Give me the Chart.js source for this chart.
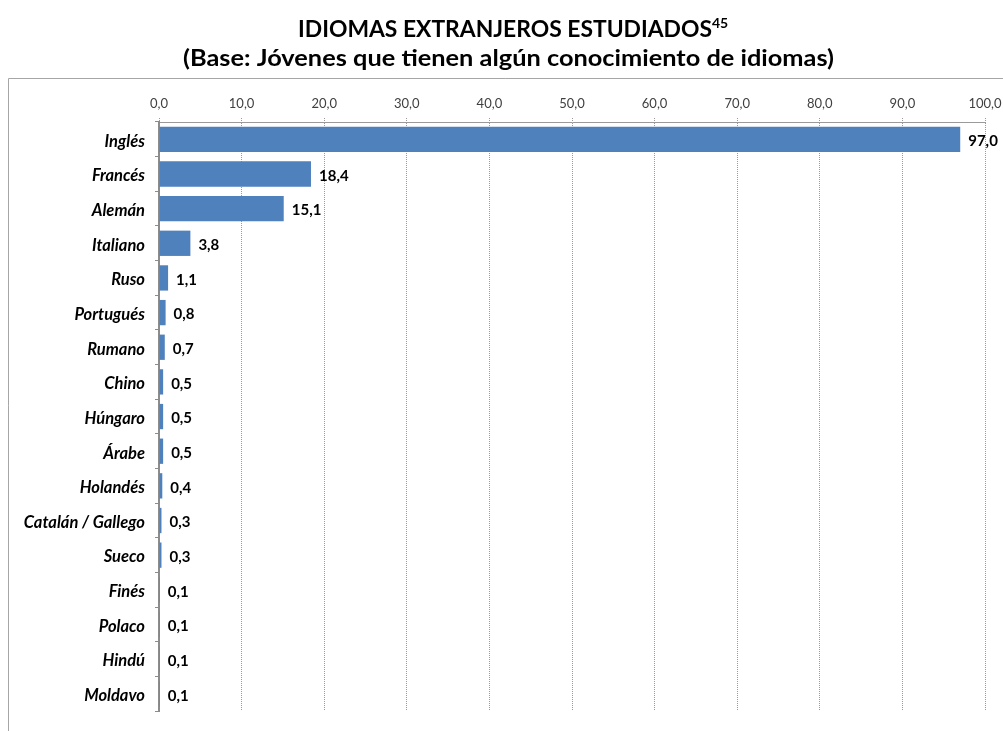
<!DOCTYPE html>
<html><head><meta charset="utf-8">
<script src="https://cdn.jsdelivr.net/npm/chart.js@4/dist/chart.umd.min.js"></script>
<style>html,body{margin:0;padding:0;background:#fff;}#wrap{width:1003px;height:731px;position:relative;}</style>
</head><body><div id="wrap"><canvas id="c" width="1003" height="731"></canvas></div>
<script>
const categories = ["Inglés","Francés","Alemán","Italiano","Ruso","Portugués","Rumano","Chino","Húngaro","Árabe","Holandés","Catalán / Gallego","Sueco","Finés","Polaco","Hindú","Moldavo"];
const values = [97.0,18.4,15.1,3.8,1.1,0.8,0.7,0.5,0.5,0.5,0.4,0.3,0.3,0.1,0.1,0.1,0.1];
const xTicks = [0,10,20,30,40,50,60,70,80,90,100];
const titleLine1 = "IDIOMAS EXTRANJEROS ESTUDIADOS";
const titleSup = "45";
const titleLine2 = "(Base: Jóvenes que tienen algún conocimiento de idiomas)";
const FONT = "Lato, 'Open Sans', sans-serif";
const fmt = v => v.toFixed(1).replace('.', ',');

function fitText(ctx, text, x, y, targetW) {
  const w = ctx.measureText(text).width;
  const s = targetW / w;
  ctx.save();
  ctx.translate(x, y);
  ctx.scale(s, 1);
  ctx.textAlign = 'left';
  ctx.fillText(text, 0, 0);
  ctx.restore();
}

const decor = {
  id: 'decor',
  beforeDraw(chart) {
    const ctx = chart.ctx;
    ctx.save();
    ctx.fillStyle = '#fff';
    ctx.fillRect(0,0,chart.width,chart.height);
    ctx.strokeStyle = '#a6a6a6';
    ctx.lineWidth = 1;
    ctx.beginPath();
    ctx.moveTo(8.5, 740); ctx.lineTo(8.5, 78.5); ctx.lineTo(1003, 78.5);
    ctx.stroke();
    // title
    ctx.fillStyle = '#000';
    ctx.textBaseline = 'alphabetic';
    ctx.font = "bold 22px " + FONT;
    fitText(ctx, titleLine1, 298, 37, 414);
    ctx.font = "bold 14px " + FONT;
    ctx.textAlign = 'left';
    ctx.fillText(titleSup, 712, 28);
    ctx.font = "bold 22px " + FONT;
    fitText(ctx, titleLine2, 183, 66, 651);
    ctx.restore();
  },
  afterDatasetsDraw(chart) {
    const ctx = chart.ctx;
    const meta = chart.getDatasetMeta(0);
    ctx.save();
    ctx.font = "bold 15px " + FONT;
    ctx.fillStyle = '#000';
    ctx.textAlign = 'left';
    ctx.textBaseline = 'middle';
    meta.data.forEach((bar, i) => {
      ctx.fillText(fmt(values[i]), bar.x + 8, bar.y + 2);
    });
    ctx.restore();
  }
};

new Chart(document.getElementById('c'), {
  type: 'bar',
  data: {
    labels: categories,
    datasets: [{
      data: values,
      backgroundColor: '#4F81BD',
      borderWidth: 0,
      categoryPercentage: 1.0,
      barPercentage: 0.73
    }]
  },
  options: {
    indexAxis: 'y',
    responsive: false,
    animation: false,
    events: [],
    layout: { padding: { left: 8, top: 78, right: 18, bottom: 7 } },
    plugins: { legend: { display: false }, tooltip: { enabled: false }, title: { display: false } },
    scales: {
      x: {
        position: 'top',
        min: 0, max: 100,
        afterFit(s) { s.height = 44; s.paddingRight = 0; s.paddingLeft = 0; },
        afterBuildTicks(s) { s.ticks = xTicks.map(v => ({ value: v })); },
        ticks: {
          callback: v => fmt(v),
          font: { family: FONT, size: 13 },
          color: '#404040',
          padding: 6,
          maxRotation: 0
        },
        grid: {
          color: '#9a9a9a',
          lineWidth: 1,
          tickLength: 4,
          tickBorderDash: [1,1]
        },
        border: { display: true, color: '#9a9a9a', dash: [1,1] }
      },
      y: {
        afterFit(s) { s.width = 151; },
        ticks: {
          font: { family: FONT, size: 16.5, style: 'italic', weight: 'bold' },
          color: '#000',
          padding: 10,
          labelOffset: 2
        },
        grid: {
          drawOnChartArea: false,
          drawTicks: true,
          offset: true,
          tickLength: 4,
          color: '#8c8c8c',
          lineWidth: 1
        },
        border: { display: true, color: '#8c8c8c', width: 2 }
      }
    }
  },
  plugins: [decor]
});
</script>
</body></html>
